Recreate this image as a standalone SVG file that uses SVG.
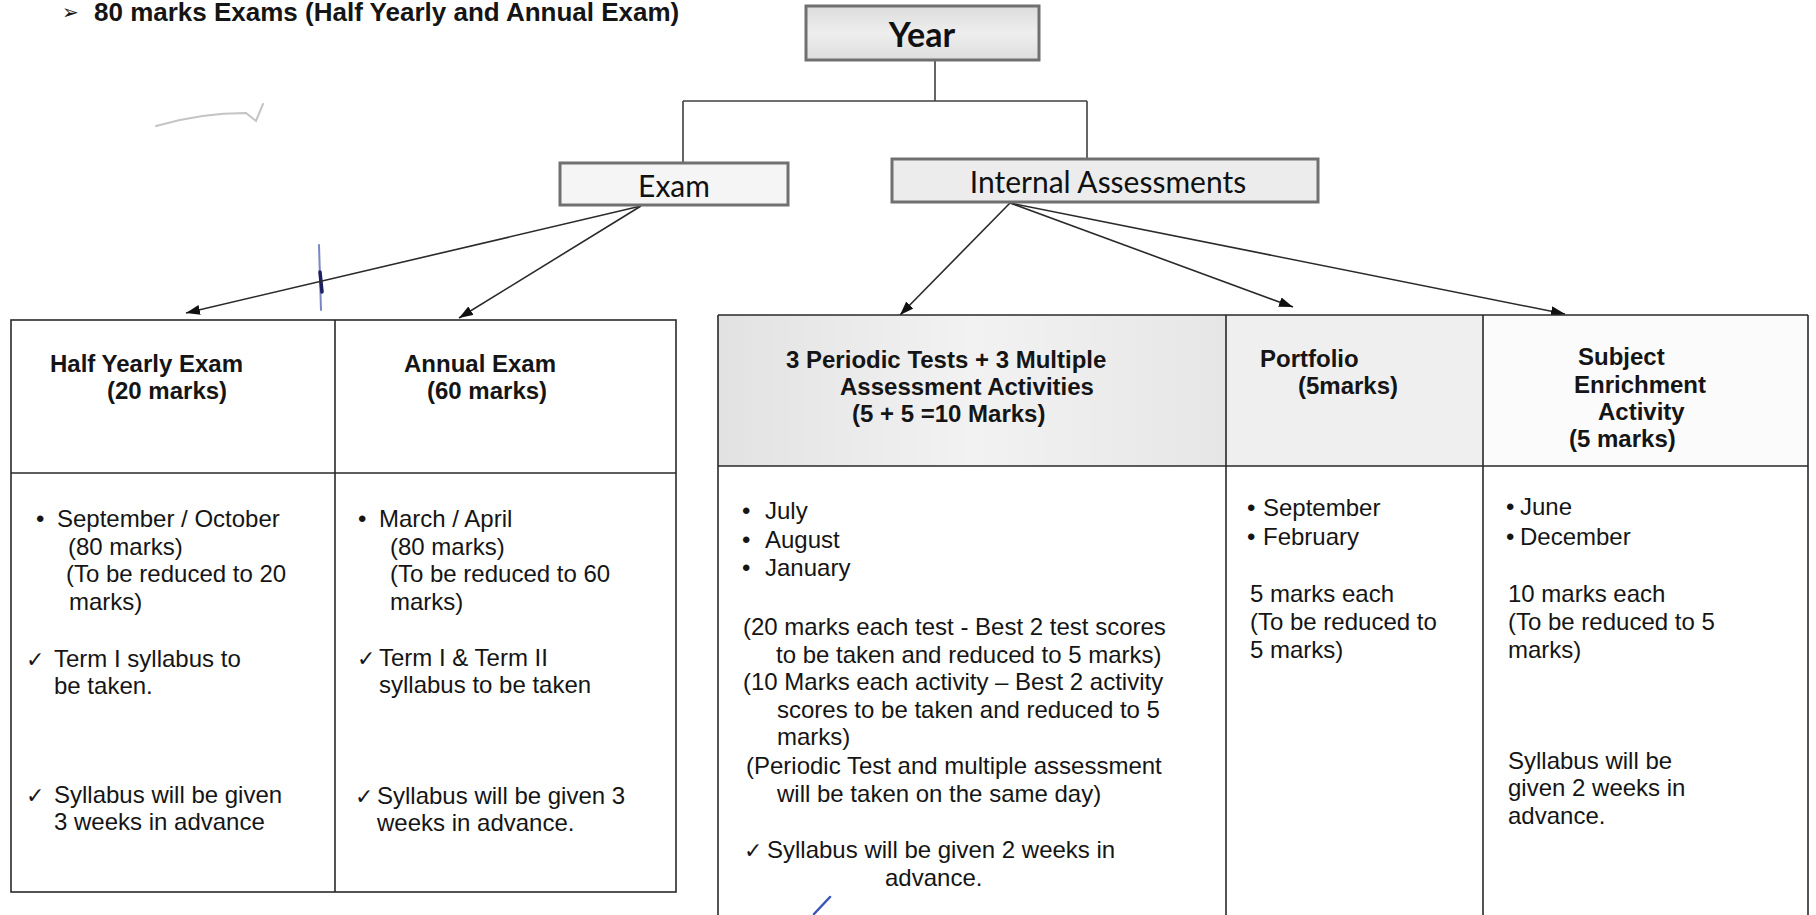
<svg xmlns="http://www.w3.org/2000/svg" width="1816" height="915" viewBox="0 0 1816 915">
<defs>
<style>
.t{font-family:"Liberation Sans",Arial,sans-serif;font-size:24px;fill:#151515}
.b{font-weight:bold}
.ck{font-family:"DejaVu Sans",sans-serif;font-size:22px;fill:#151515}
.cal{font-family:Lato,"Open Sans",sans-serif;fill:#111}
.box{stroke:#707070;stroke-width:3}
.conn{stroke:#404040;stroke-width:1.6;fill:none}
.arr{stroke:#2a2a2a;stroke-width:1.6;fill:none;marker-end:url(#ah)}
.grid{stroke:#2a2a2a;stroke-width:1.6;fill:none}
</style>
<marker id="ah" markerUnits="userSpaceOnUse" markerWidth="15" markerHeight="11" refX="14" refY="5" orient="auto">
<path d="M0,0 L14,5 L0,10 z" fill="#111"/>
</marker>
<linearGradient id="gYear" x1="0" y1="0" x2="0" y2="1">
<stop offset="0" stop-color="#dcdcdc"/><stop offset="0.5" stop-color="#eeeeee"/><stop offset="1" stop-color="#dddddd"/>
</linearGradient>
<linearGradient id="gHead" x1="0" y1="0" x2="1" y2="0">
<stop offset="0" stop-color="#e2e2e2"/><stop offset="0.5" stop-color="#f2f2f2"/><stop offset="1" stop-color="#e6e6e6"/>
</linearGradient>
</defs>
<rect width="1816" height="915" fill="#ffffff"/>

<g id="title">
<text x="62" y="19" class="ck" style="font-size:20px">➢</text>
<text x="94" y="21" class="t b" style="font-size:26px">80 marks Exams (Half Yearly and Annual Exam)</text>
</g>

<g id="scan-marks" fill="none" stroke-linecap="round">
<path d="M156,126 Q200,113 246,113 L256,121 L263,104" stroke="#c4c4c4" stroke-width="2"/>
<path d="M319,245 L321,310" stroke="#7c86c4" stroke-width="2"/>
<path d="M320,272 L322,292" stroke="#1c2060" stroke-width="3.5"/>
<path d="M814,914 L830,897" stroke="#3b54b8" stroke-width="2.5"/>
</g>

<g id="connectors">
<path class="conn" d="M935,61 V101 M683,101 H1087 M683,101 V163 M1087,101 V159"/>
<path class="arr" d="M641,206 L186,313"/>
<path class="arr" d="M641,206 L459,318"/>
<path class="arr" d="M1010,203 L900,315"/>
<path class="arr" d="M1010,203 L1293,307"/>
<path class="arr" d="M1010,203 L1565,314"/>
</g>

<g id="node-year">
<rect x="806" y="6" width="233" height="54" fill="url(#gYear)" class="box"/>
<text x="922" y="47" class="cal" style="font-size:34px;font-weight:bold" text-anchor="middle">Year</text>
</g>

<g id="node-exam">
<rect x="560" y="163" width="228" height="42" fill="#f5f5f5" class="box"/>
<text x="674" y="197" class="cal" style="font-size:30px" text-anchor="middle">Exam</text>
</g>

<g id="node-internal">
<rect x="892" y="159" width="426" height="43" fill="#ececec" class="box"/>
<text x="1108" y="193" class="cal" style="font-size:30px" text-anchor="middle">Internal Assessments</text>
</g>

<g id="table-exam">
<rect x="11" y="320" width="665" height="572" fill="#ffffff" class="grid"/>
<path class="grid" d="M335,320 V892 M11,473 H676"/>
</g>

<g id="node-half-yearly">
<text x="50" y="372" class="t b">Half Yearly Exam</text>
<text x="107" y="399" class="t b">(20 marks)</text>
<text x="36" y="527" class="t">•</text>
<text x="57" y="527" class="t">September / October</text>
<text x="68" y="555" class="t">(80 marks)</text>
<text x="66" y="582" class="t">(To be reduced to 20</text>
<text x="69" y="610" class="t">marks)</text>
<text x="26" y="667" class="ck">✓</text>
<text x="54" y="667" class="t">Term I syllabus to</text>
<text x="54" y="694" class="t">be taken.</text>
<text x="26" y="803" class="ck">✓</text>
<text x="54" y="803" class="t">Syllabus will be given</text>
<text x="54" y="830" class="t">3 weeks in advance</text>
</g>

<g id="node-annual">
<text x="404" y="372" class="t b">Annual Exam</text>
<text x="427" y="399" class="t b">(60 marks)</text>
<text x="358" y="527" class="t">•</text>
<text x="379" y="527" class="t">March / April</text>
<text x="390" y="555" class="t">(80 marks)</text>
<text x="390" y="582" class="t">(To be reduced to 60</text>
<text x="390" y="610" class="t">marks)</text>
<text x="357" y="666" class="ck">✓</text>
<text x="379" y="666" class="t">Term I &amp; Term II</text>
<text x="379" y="693" class="t">syllabus to be taken</text>
<text x="355" y="804" class="ck">✓</text>
<text x="377" y="804" class="t">Syllabus will be given 3</text>
<text x="377" y="831" class="t">weeks in advance.</text>
</g>

<g id="table-internal">
<rect x="718" y="315" width="508" height="151" fill="url(#gHead)"/>
<rect x="1226" y="315" width="257" height="151" fill="#efefef"/>
<rect x="1483" y="315" width="325" height="151" fill="#fbfbfb"/>
<path class="grid" d="M718,315 H1808 M718,466 H1808 M718,315 V915 M1226,315 V915 M1483,315 V915 M1808,315 V915"/>
</g>

<g id="node-periodic">
<text x="786" y="368" class="t b">3 Periodic Tests + 3 Multiple</text>
<text x="840" y="395" class="t b">Assessment Activities</text>
<text x="852" y="422" class="t b">(5 + 5 =10 Marks)</text>
<text x="742" y="519" class="t">•</text>
<text x="765" y="519" class="t">July</text>
<text x="742" y="548" class="t">•</text>
<text x="765" y="548" class="t">August</text>
<text x="742" y="576" class="t">•</text>
<text x="765" y="576" class="t">January</text>
<text x="743" y="635" class="t">(20 marks each test - Best 2 test scores</text>
<text x="776" y="663" class="t">to be taken and reduced to 5 marks)</text>
<text x="743" y="690" class="t">(10 Marks each activity – Best 2 activity</text>
<text x="777" y="718" class="t">scores to be taken and reduced to 5</text>
<text x="777" y="745" class="t">marks)</text>
<text x="746" y="774" class="t">(Periodic Test and multiple assessment</text>
<text x="777" y="802" class="t">will be taken on the same day)</text>
<text x="744" y="858" class="ck">✓</text>
<text x="767" y="858" class="t">Syllabus will be given 2 weeks in</text>
<text x="885" y="886" class="t">advance.</text>
</g>

<g id="node-portfolio">
<text x="1260" y="367" class="t b">Portfolio</text>
<text x="1298" y="394" class="t b">(5marks)</text>
<text x="1247" y="516" class="t">•</text>
<text x="1263" y="516" class="t">September</text>
<text x="1247" y="545" class="t">•</text>
<text x="1263" y="545" class="t">February</text>
<text x="1250" y="602" class="t">5 marks each</text>
<text x="1250" y="630" class="t">(To be reduced to</text>
<text x="1250" y="658" class="t">5 marks)</text>
</g>

<g id="node-subject">
<text x="1578" y="365" class="t b">Subject</text>
<text x="1574" y="393" class="t b">Enrichment</text>
<text x="1598" y="420" class="t b">Activity</text>
<text x="1569" y="447" class="t b">(5 marks)</text>
<text x="1506" y="515" class="t">•</text>
<text x="1520" y="515" class="t">June</text>
<text x="1506" y="545" class="t">•</text>
<text x="1520" y="545" class="t">December</text>
<text x="1508" y="602" class="t">10 marks each</text>
<text x="1508" y="630" class="t">(To be reduced to 5</text>
<text x="1508" y="658" class="t">marks)</text>
<text x="1508" y="769" class="t">Syllabus will be</text>
<text x="1508" y="796" class="t">given 2 weeks in</text>
<text x="1508" y="824" class="t">advance.</text>
</g>
</svg>
